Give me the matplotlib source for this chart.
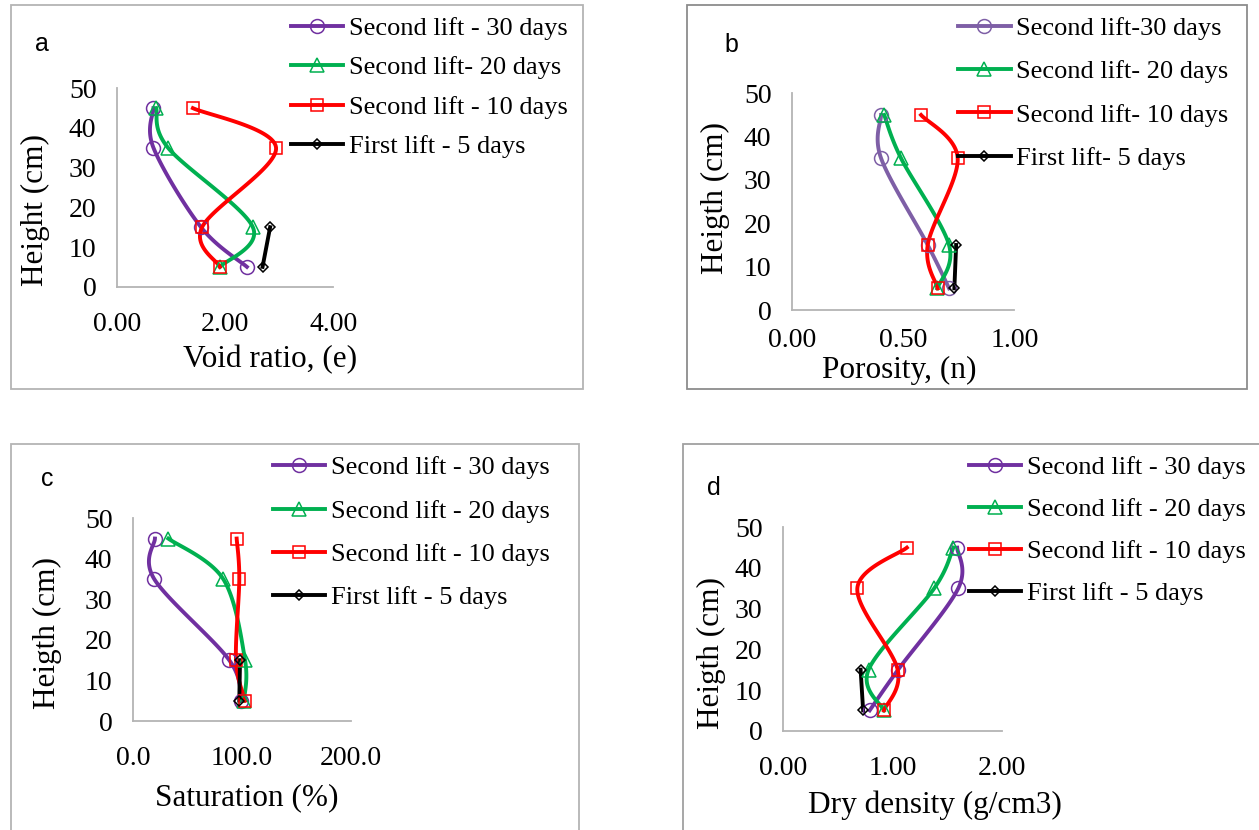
import numpy as np
import matplotlib
matplotlib.use('Agg')
import matplotlib.pyplot as plt
from matplotlib.patches import Rectangle
from matplotlib.lines import Line2D

# heights of the sampling points (cm)
heights = [45, 35, 15, 5]
heights_first = [15, 5]

# a - void ratio
void_30 = [0.67, 0.67, 1.55, 2.40]
void_20 = [0.72, 0.94, 2.51, 1.90]
void_10 = [1.40, 2.94, 1.57, 1.90]
void_5 = [2.83, 2.69]

# b - porosity
por_30 = [0.40, 0.40, 0.61, 0.706]
por_20 = [0.414, 0.49, 0.706, 0.653]
por_10 = [0.58, 0.745, 0.61, 0.655]
por_5 = [0.738, 0.73]

# c - saturation (%)
sat_30 = [19.9, 19.3, 88.3, 99.0]
sat_20 = [32.2, 82.8, 102.8, 101.8]
sat_10 = [95.1, 97.5, 94.5, 102.8]
sat_5 = [98.2, 97.5]

# d - dry density (g/cm3)
dens_30 = [1.59, 1.60, 1.05, 0.79]
dens_20 = [1.555, 1.38, 0.78, 0.92]
dens_10 = [1.13, 0.677, 1.046, 0.92]
dens_5 = [0.707, 0.73]

labels_a = ['Second lift - 30 days', 'Second lift- 20 days', 'Second lift - 10 days', 'First lift - 5 days']
labels_b = ['Second lift-30 days', 'Second lift- 20 days', 'Second lift- 10 days', 'First lift- 5 days']
labels_cd = ['Second lift - 30 days', 'Second lift - 20 days', 'Second lift - 10 days', 'First lift - 5 days']

plt.rcParams['font.family'] = 'Liberation Serif'

W, H = 1259, 830
fig = plt.figure(figsize=(W / 100, H / 100), dpi=100)


def fx(px):
    return px / W


def fy(py):
    return 1 - py / H


def smooth(x, y, sx, sy, n=40):
    # excel-like smoothed line (bezier through the points)
    p = np.column_stack([np.asarray(x, float) * sx, np.asarray(y, float) * sy])
    if len(p) < 3:
        return x, y
    out = []
    for i in range(len(p) - 1):
        p0 = p[max(i - 1, 0)]
        p1 = p[i]
        p2 = p[i + 1]
        p3 = p[min(i + 2, len(p) - 1)]
        c1 = p1 + (p2 - p0) / 6
        c2 = p2 - (p3 - p1) / 6
        t = np.linspace(0, 1, n)[:, None]
        seg = (1 - t) ** 3 * p1 + 3 * (1 - t) ** 2 * t * c1 + 3 * (1 - t) * t ** 2 * c2 + t ** 3 * p2
        out.append(seg if i == 0 else seg[1:])
    out = np.vstack(out)
    return out[:, 0] / sx, out[:, 1] / sy


def panel(ax_px, box_px, box_col, xmax, xfmt, data, labels, purple,
          xlabel, ylabel, letter, letter_px, xlab_px, ylab_px, leg_px, leg_sp, xpad=18):
    l, r, t, b = ax_px
    ax = fig.add_axes([fx(l), fy(b), (r - l) / W, (b - t) / H])
    bl, br, bt, bb = box_px
    fig.add_artist(Rectangle((fx(bl), fy(bb)), (br - bl) / W, (bb - bt) / H,
                             transform=fig.transFigure, fill=False, ec=box_col, lw=1.3))
    styles = [(purple, 'o', 10), ('#00B050', '^', 10), ('#FF0000', 's', 8.5), ('black', 'D', 5.5)]
    handles = []
    for (xs, ys), (col, mk, ms), lab in zip(data, styles, labels):
        xs_s, ys_s = smooth(xs, ys, (r - l) / xmax, (b - t) / 50.0)
        ax.plot(xs_s, ys_s, color=col, lw=2.8, clip_on=False, zorder=2)
        ax.plot(xs, ys, ls='none', marker=mk, ms=ms, mfc='none', mec=col, mew=1.1,
                clip_on=False, zorder=3)
        handles.append(Line2D([], [], color=col, lw=2.8, marker=mk, ms=ms, mfc='none',
                              mec=col, mew=1.1))
    ax.set_xlim(0, xmax)
    ax.set_ylim(0, 50)
    ax.set_xticks([0, xmax / 2, xmax])
    ax.set_xticklabels([xfmt % v for v in [0, xmax / 2, xmax]])
    ax.set_yticks(range(0, 51, 10))
    ax.tick_params(length=0, labelsize=20, pad=15)
    ax.tick_params(axis='x', pad=xpad)
    for s in ['top', 'right']:
        ax.spines[s].set_visible(False)
    for s in ['left', 'bottom']:
        ax.spines[s].set_color('#b4b4b4')
        ax.spines[s].set_linewidth(1.3)
    ax.set_xlabel(xlabel, fontsize=22.5, va='center')
    ax.xaxis.set_label_coords(fx(xlab_px[0]), fy(xlab_px[1]), transform=fig.transFigure)
    ax.set_ylabel(ylabel, fontsize=22.5, va='center')
    ax.yaxis.set_label_coords(fx(ylab_px[0]), fy(ylab_px[1]), transform=fig.transFigure)
    fig.text(fx(letter_px[0]), fy(letter_px[1]), letter, family='Liberation Sans',
             fontsize=18, ha='left', va='baseline')
    ax.legend(handles=handles, labels=labels, loc='upper left',
              bbox_to_anchor=(fx(leg_px[0]), fy(leg_px[1])), bbox_transform=fig.transFigure,
              frameon=False, fontsize=19, handlelength=2.0, handletextpad=0.2,
              labelspacing=leg_sp, borderpad=0, borderaxespad=0)
    return ax


panel((117.3, 333.3, 88.3, 286.7), (10.7, 582.7, 5, 388.7), '#b4b4b4', 4.0, '%.2f',
      [(void_30, heights), (void_20, heights), (void_10, heights), (void_5, heights_first)],
      labels_a, '#7030A0', 'Void ratio, (e)', 'Height (cm)', 'a',
      (35.5, 51), (269.8, 360), (35, 210), (290.5, 16.7), 0.60)

panel((792.3, 1014.3, 93.3, 310), (686.7, 1247.3, 5, 388.7), '#8c8c8c', 1.0, '%.2f',
      [(por_30, heights), (por_20, heights), (por_10, heights), (por_5, heights_first)],
      labels_b, '#7e5fa6', 'Porosity, (n)', 'Heigth (cm)', 'b',
      (724.5, 52), (898.8, 370), (715, 198), (958, 16.7), 0.75, xpad=13)

panel((133.3, 350.7, 518.3, 721), (10.7, 578.5, 444.3, 850), '#b4b4b4', 200.0, '%.1f',
      [(sat_30, heights), (sat_20, heights), (sat_10, heights), (sat_5, heights_first)],
      labels_cd, '#7030A0', 'Saturation (%)', 'Heigth (cm)', 'c',
      (41.5, 486), (247, 798), (47.4, 633), (272.7, 456), 0.75)

panel((783.3, 1002, 527.3, 730.7), (683, 1280, 444.3, 850), '#a0a0a0', 2.0, '%.2f',
      [(dens_30, heights), (dens_20, heights), (dens_10, heights), (dens_5, heights_first)],
      labels_cd, '#7030A0', 'Dry density (g/cm3)', 'Heigth (cm)', 'd',
      (707, 495), (934.7, 805), (711, 653), (968.7, 456), 0.70)

fig.savefig('out.png', dpi=100)
